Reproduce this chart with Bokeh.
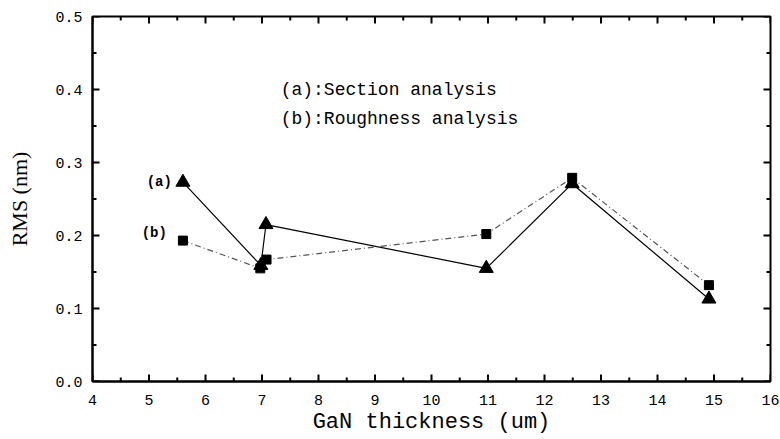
from bokeh.plotting import figure
from bokeh.models import Range1d, FixedTicker, Label
from bokeh.embed import file_html
from bokeh.resources import INLINE
from bokeh.core.properties import value

# Data
thickness_a = [5.6, 6.98, 7.07, 10.97, 12.49, 14.91]
rms_a = [0.273, 0.159, 0.215, 0.155, 0.271, 0.113]
thickness_b = [5.6, 6.97, 7.08, 10.97, 12.49, 14.91]
rms_b = [0.193, 0.155, 0.167, 0.202, 0.279, 0.132]

x_major = list(range(4, 17))
x_minor = [4.5 + i for i in range(12)]
y_major = [0.0, 0.1, 0.2, 0.3, 0.4, 0.5]
y_minor = [0.05, 0.15, 0.25, 0.35, 0.45]
y_labels = {0.0: "0.0", 0.1: "0.1", 0.2: "0.2", 0.3: "0.3", 0.4: "0.4", 0.5: "0.5"}

legend_a = "(a):Section analysis"
legend_b = "(b):Roughness analysis"
x_title = "GaN thickness (um)"
y_title = "RMS (nm)"

MONO = "Liberation Mono"
SERIF = "Liberation Serif"

X0, X1, Y0, Y1 = 4, 16, 0.0, 0.5
FW, FH = 678, 365          # frame size in px
ML, MT, MR, MB = 92, 16, 10, 58

p = figure(width=ML + FW + MR, height=MT + FH + MB, output_backend="svg", toolbar_location=None,
           x_range=Range1d(X0, X1), y_range=Range1d(Y0, Y1),
           min_border_left=ML, min_border_right=MR, min_border_top=MT, min_border_bottom=MB)
p.grid.visible = False
p.outline_line_color = "black"
p.outline_line_width = 2
p.background_fill_color = "white"
p.border_fill_color = "white"

xa = p.xaxis[0]
xa.ticker = FixedTicker(ticks=x_major)
xa.axis_line_width = 2
xa.major_tick_in = 0
xa.major_tick_out = 0
xa.minor_tick_in = 0
xa.minor_tick_out = 0
xa.major_label_text_font = MONO
xa.major_label_text_font_size = "15px"
xa.major_label_text_color = "black"
xa.major_label_standoff = 13
xa.axis_label = x_title
xa.axis_label_text_font = MONO
xa.axis_label_text_font_size = "22px"
xa.axis_label_text_font_style = "normal"
xa.axis_label_text_color = "black"
xa.axis_label_standoff = 2

ya = p.yaxis[0]
ya.ticker = FixedTicker(ticks=y_major)
ya.axis_line_width = 2
ya.major_tick_in = 0
ya.major_tick_out = 0
ya.minor_tick_in = 0
ya.minor_tick_out = 0
ya.major_label_overrides = y_labels
ya.major_label_text_font = MONO
ya.major_label_text_font_size = "15px"
ya.major_label_text_color = "black"
ya.major_label_standoff = 10
ya.axis_label = y_title
ya.axis_label_text_font = SERIF
ya.axis_label_text_font_size = "22px"
ya.axis_label_text_font_style = "normal"
ya.axis_label_text_color = "black"
ya.axis_label_standoff = 20

# inward tick marks on all four sides (lengths converted from px to data units)
dx_major = 7 * (X1 - X0) / FW
dx_minor = 4 * (X1 - X0) / FW
dy_major = 7 * (Y1 - Y0) / FH
dy_minor = 4 * (Y1 - Y0) / FH
tick_kw = dict(line_color="black", line_width=2)
# bottom
p.segment(x0=x_major, y0=[Y0] * len(x_major), x1=x_major, y1=[Y0 + dy_major] * len(x_major), **tick_kw)
p.segment(x0=x_minor, y0=[Y0] * len(x_minor), x1=x_minor, y1=[Y0 + dy_minor] * len(x_minor), **tick_kw)
# top
p.segment(x0=x_major, y0=[Y1] * len(x_major), x1=x_major, y1=[Y1 - dy_major] * len(x_major), **tick_kw)
p.segment(x0=x_minor, y0=[Y1] * len(x_minor), x1=x_minor, y1=[Y1 - dy_minor] * len(x_minor), **tick_kw)
# left
p.segment(x0=[X0] * len(y_major), y0=y_major, x1=[X0 + dx_major] * len(y_major), y1=y_major, **tick_kw)
p.segment(x0=[X0] * len(y_minor), y0=y_minor, x1=[X0 + dx_minor] * len(y_minor), y1=y_minor, **tick_kw)
# right
p.segment(x0=[X1] * len(y_major), y0=y_major, x1=[X1 - dx_major] * len(y_major), y1=y_major, **tick_kw)
p.segment(x0=[X1] * len(y_minor), y0=y_minor, x1=[X1 - dx_minor] * len(y_minor), y1=y_minor, **tick_kw)

# series (a): solid line with triangles
p.line(thickness_a, rms_a, line_color="black", line_width=1.2)
p.scatter(thickness_a, rms_a, marker="triangle", size=14, fill_color="black", line_color="black")

# series (b): dash-dot grey line with squares
p.line(thickness_b, rms_b, line_color="#555555", line_width=1.2, line_dash="6 3 1 3")
p.scatter(thickness_b, rms_b, marker="square", size=9, fill_color="black", line_color="black")

# point tags
p.text(x=[thickness_a[0]], y=[rms_a[0]], text=["(a)"], x_offset=-11, y_offset=0,
       text_align="right", text_baseline="middle", text_font=value(MONO),
       text_font_size="14px", text_font_style="bold", text_color="black")
p.text(x=[thickness_b[0]], y=[rms_b[0]], text=["(b)"], x_offset=-16, y_offset=-8,
       text_align="right", text_baseline="middle", text_font=value(MONO),
       text_font_size="14px", text_font_style="bold", text_color="black")

# in-plot legend text
p.add_layout(Label(x=7.33, y=0.399, text=legend_a, text_font=MONO, text_font_size="18px",
                   text_baseline="middle", text_align="left", text_color="black"))
p.add_layout(Label(x=7.33, y=0.360, text=legend_b, text_font=MONO, text_font_size="18px",
                   text_baseline="middle", text_align="left", text_color="black"))

open("out.html", "w").write(file_html(p, INLINE))
